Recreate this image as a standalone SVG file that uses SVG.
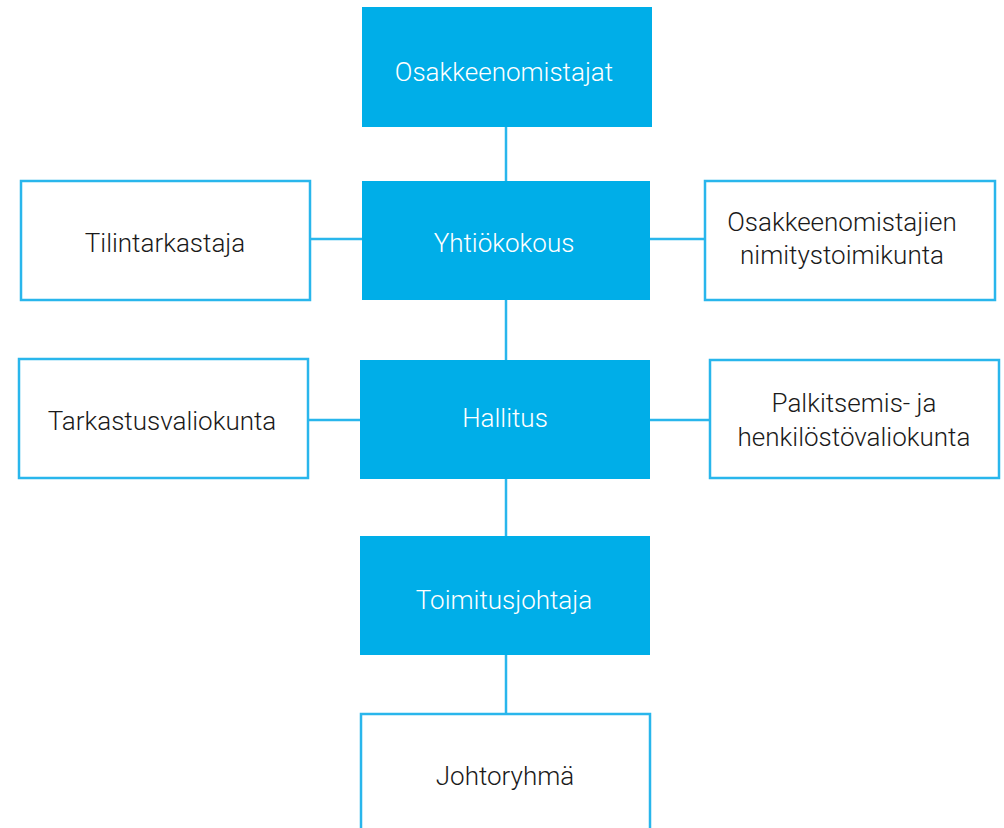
<svg xmlns="http://www.w3.org/2000/svg" width="1004" height="828" viewBox="0 0 1004 828">
<style>
.main rect{fill:#00AEE8;}
.side rect{fill:#fff;stroke:#29B6EC;stroke-width:2.5;}
text{font-family:Roboto,"Open Sans","Liberation Sans",sans-serif;font-weight:300;font-size:26px;text-anchor:middle;}
.main text{fill:#fff;}
.side text{fill:#1a1a1a;}
#connectors line{stroke:#29B6EC;stroke-width:2.5;}
</style>
<rect width="1004" height="828" fill="#fff"/>
<g id="connectors">
<line x1="506" y1="127" x2="506" y2="181"/>
<line x1="506" y1="300" x2="506" y2="360"/>
<line x1="506" y1="479" x2="506" y2="536"/>
<line x1="506" y1="655" x2="506" y2="714"/>
<line x1="310" y1="239" x2="362" y2="239"/>
<line x1="650" y1="239" x2="705" y2="239"/>
<line x1="308" y1="420" x2="360" y2="420"/>
<line x1="650" y1="420" x2="710" y2="420"/>
</g>
<g id="osakkeenomistajat" class="main"><rect x="362" y="7" width="290" height="120"/><text x="504" y="81">Osakkeenomistajat</text></g>
<g id="yhtiokokous" class="main"><rect x="362" y="181" width="288" height="119"/><text x="504" y="252">Yhtiökokous</text></g>
<g id="tilintarkastaja" class="side"><rect x="21" y="181" width="289" height="119"/><text x="165" y="252">Tilintarkastaja</text></g>
<g id="nimitystoimikunta" class="side"><rect x="705" y="181" width="290" height="119"/><text x="842" y="231">Osakkeenomistajien</text><text x="842" y="264">nimitystoimikunta</text></g>
<g id="hallitus" class="main"><rect x="360" y="360" width="290" height="119"/><text x="505" y="427">Hallitus</text></g>
<g id="tarkastusvaliokunta" class="side"><rect x="19" y="359" width="289" height="119"/><text x="162" y="430">Tarkastusvaliokunta</text></g>
<g id="palkitsemis" class="side"><rect x="710" y="360" width="289" height="118"/><text x="854" y="412">Palkitsemis- ja</text><text x="854" y="446">henkilöstövaliokunta</text></g>
<g id="toimitusjohtaja" class="main"><rect x="360" y="536" width="290" height="119"/><text x="504" y="609">Toimitusjohtaja</text></g>
<g id="johtoryhma" class="side"><rect x="361" y="714" width="289" height="130"/><text x="505" y="785">Johtoryhmä</text></g>
</svg>
